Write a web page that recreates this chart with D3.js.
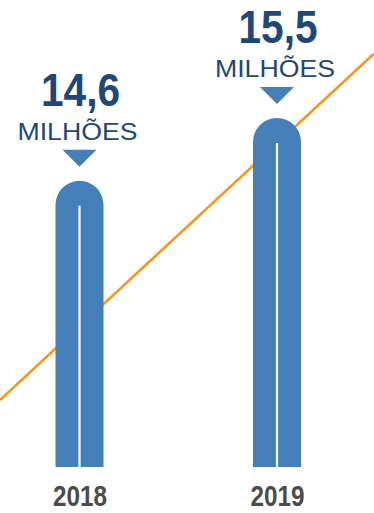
<!DOCTYPE html>
<html lang="pt">
	<head>
		<meta charset="utf-8">
		<title>Milhões 2018-2019</title>
		<script src="https://cdn.jsdelivr.net/npm/d3@7"></script>
		<style>
			body { margin: 0; background: #fff; }
			.axis text {
				font-family: "Liberation Sans Narrow", "Arial Narrow", "Liberation Sans", sans-serif;
				font-weight: bold;
				font-size: 30px;
				fill: #4b4b4b;
			}
		</style>
	</head>
	<body>
		<script>
			var w = 374;
			var h = 513;

			// data
			var years = [2018, 2019];
			var values = [14.6, 15.5];
			var valueLabels = ["14,6", "15,5"];
			var unitLabel = "MILHÕES";
			// orange trend line, ends at the picture edges
			var trendYears = [2017.597, 2019.491];
			var trendValues = [11.46, 16.42];

			var barWidth = 48;
			var baseline = 467;

			var svg = d3.select("body")
				.append("svg")
				.attr("width", w)
				.attr("height", h);

			var xScale = d3.scaleLinear()
				.domain([2018, 2019])
				.range([79.5, 277]);

			var yScale = d3.scaleLinear()
				.domain([10.5, 15.5])
				.range([baseline, 118]);

			// trend line behind the bars
			var line = d3.line()
				.x(function(d) { return xScale(d[0]); })
				.y(function(d) { return yScale(d[1]); });

			svg.append("path")
				.datum(d3.zip(trendYears, trendValues))
				.attr("d", line)
				.attr("fill", "none")
				.attr("stroke", "#f7961c")
				.attr("stroke-width", 2.6);

			var data = d3.zip(years, values, valueLabels);
			var r = barWidth / 2;

			// bars with round top
			svg.selectAll("path.bar")
				.data(data)
				.enter()
				.append("path")
				.attr("class", "bar")
				.attr("fill", "#4480b7")
				.attr("d", function(d) {
					var x0 = xScale(d[0]) - r;
					var x1 = xScale(d[0]) + r;
					var top = yScale(d[1]);
					return "M" + x0 + "," + baseline +
						"L" + x0 + "," + (top + r) +
						"A" + r + "," + r + " 0 0 1 " + x1 + "," + (top + r) +
						"L" + x1 + "," + baseline + "Z";
				});

			// white split line in each bar
			svg.selectAll("line.split")
				.data(data)
				.enter()
				.append("line")
				.attr("class", "split")
				.attr("x1", function(d) { return xScale(d[0]); })
				.attr("x2", function(d) { return xScale(d[0]); })
				.attr("y1", function(d) { return yScale(d[1]) + r + 1; })
				.attr("y2", baseline)
				.attr("stroke", "#fff")
				.attr("stroke-width", 2.2);

			// pointer triangles
			svg.selectAll("path.tri")
				.data(data)
				.enter()
				.append("path")
				.attr("class", "tri")
				.attr("fill", "#4480b7")
				.attr("d", function(d) {
					var cx = xScale(d[0]);
					var tip = yScale(d[1]) - 14;
					return "M" + (cx - 17) + "," + (tip - 17) +
						"L" + (cx + 17) + "," + (tip - 17) +
						"L" + cx + "," + tip + "Z";
				});

			// value labels
			svg.selectAll("text.val")
				.data(data)
				.enter()
				.append("text")
				.attr("class", "val")
				.attr("x", function(d) { return xScale(d[0]) + 1; })
				.attr("y", function(d) { return yScale(d[1]) - 75; })
				.attr("text-anchor", "middle")
				.attr("font-family", "'Liberation Sans', Arial, sans-serif")
				.attr("font-weight", "bold")
				.attr("font-size", "46px")
				.attr("fill", "#1e4878")
				.attr("textLength", 79)
				.attr("lengthAdjust", "spacingAndGlyphs")
				.text(function(d) { return d[2]; });

			svg.selectAll("text.unit")
				.data(data)
				.enter()
				.append("text")
				.attr("class", "unit")
				.attr("x", function(d) { return xScale(d[0]) - 2; })
				.attr("y", function(d) { return yScale(d[1]) - 41; })
				.attr("text-anchor", "middle")
				.attr("font-family", "'Liberation Sans', Arial, sans-serif")
				.attr("font-size", "24px")
				.attr("fill", "#1e4878")
				.attr("textLength", 120)
				.attr("lengthAdjust", "spacingAndGlyphs")
				.text(unitLabel);

			// year axis
			var xAxis = d3.axisBottom(xScale)
				.tickValues(years)
				.tickFormat(d3.format("d"))
				.tickSize(0)
				.tickPadding(0);

			var gx = svg.append("g")
				.attr("class", "axis")
				.attr("transform", "translate(0,506)")
				.call(xAxis);

			gx.select(".domain").remove();
			gx.selectAll("text")
				.attr("dy", "0")
				.attr("textLength", 54)
				.attr("lengthAdjust", "spacingAndGlyphs");
		</script>
	</body>
</html>
